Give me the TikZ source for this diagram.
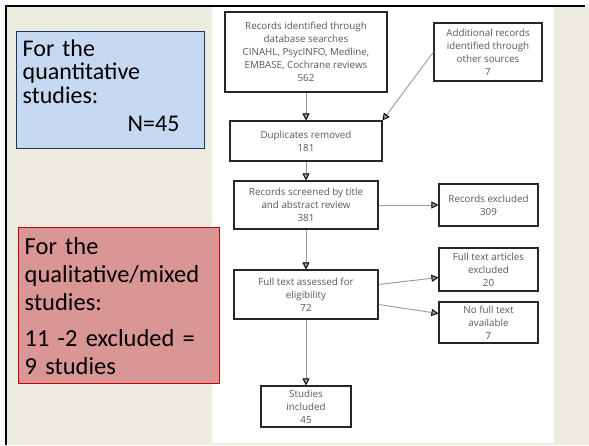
\documentclass[tikz,border=0pt]{standalone}
\usepackage{fontspec}
\setmainfont{Carlito}
\newfontfamily\flowfont{Open Sans}
\usetikzlibrary{arrows.meta}
\definecolor{slidebg}{HTML}{EEECE1}
\definecolor{quantfill}{HTML}{C6D9F1}
\definecolor{quantdraw}{HTML}{1F3A60}
\definecolor{qualfill}{HTML}{D99694}
\definecolor{qualdraw}{HTML}{C00000}

\begin{document}
\begin{tikzpicture}[x=1pt,y=-1pt,>={Triangle[length=7pt,width=7pt,black]}]
  \tikzstyle{flowbox}=[draw=black!85,line width=1.1pt,fill=white,align=center,inner sep=1pt,
    text=black!65,font=\flowfont\fontsize{9.8}{13}\selectfont]
  \tikzstyle{flowline}=[->,black!40,line width=0.9pt]
  \tikzstyle{notebox}=[anchor=north west,align=left,inner sep=6pt,line width=1.4pt]

  % slide frame and panel
  \useasboundingbox (0,0) rectangle (589,445);
  \fill[slidebg] (6,6) rectangle (589,445);
  \fill[white] (212,7) rectangle (554,443);
  \draw[line width=2.2pt] (6,445) -- (6,6) -- (585,6);

  % notes
  \node[notebox,draw=quantdraw,fill=quantfill,text width=176pt,minimum height=117pt,
    font=\fontsize{24}{23.5}\selectfont] (quant) at (16,31)
    {For the\\quantitative\\studies:\\[5pt]\hspace*{105pt}N=45\\[-14pt]\mbox{}};
  \node[notebox,draw=qualdraw,fill=qualfill,text width=189pt,minimum height=156pt,
    font=\fontsize{24.5}{28}\selectfont] (qual) at (18,227)
    {For the\\qualitative/mixed\\studies:\\[8pt]11 -2 excluded =\\9 studies};

  % flow chart
  \node[flowbox,minimum width=162pt,minimum height=80pt] (rec) at (306,52)
    {Records identified through\\database searches\\CINAHL, PsycINFO, Medline,\\EMBASE, Cochrane reviews\\562};
  \node[flowbox,minimum width=108pt,minimum height=58pt] (add) at (488,52)
    {Additional records\\identified through\\other sources\\7};
  \node[flowbox,minimum width=152pt,minimum height=40pt] (dup) at (306,141)
    {Duplicates removed\\181};
  \node[flowbox,minimum width=144pt,minimum height=48pt] (scr) at (306,205)
    {Records screened by title\\and abstract review\\381};
  \node[flowbox,minimum width=99pt,minimum height=42pt] (exc) at (488.5,205)
    {Records excluded\\309};
  \node[flowbox,minimum width=144pt,minimum height=49pt] (full) at (306,294.5)
    {Full text assessed for\\eligibility\\72};
  \node[flowbox,minimum width=99pt,minimum height=43pt] (ftex) at (488.5,269.5)
    {Full text articles\\excluded\\20};
  \node[flowbox,minimum width=99pt,minimum height=41pt] (nof) at (488.5,322.5)
    {No full text\\available\\7};
  \node[flowbox,minimum width=90pt,minimum height=41pt] (inc) at (306,406.5)
    {Studies\\included\\45};

  \path[flowline]
    (rec.south) edge (dup.north)
    (add.west) edge (dup.north east)
    (dup.south) edge (scr.north)
    (scr.east) edge (exc.west)
    (scr.south) edge (full.north)
    ([yshift=10pt]full.east) edge ([yshift=-8pt]ftex.west)
    ([yshift=-10pt]full.east) edge ([yshift=9pt]nof.west)
    (full.south) edge (inc.north);
\end{tikzpicture}
\end{document}
